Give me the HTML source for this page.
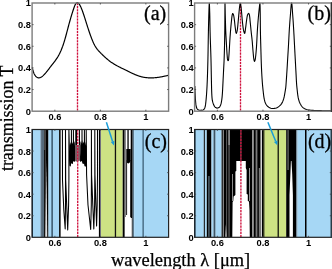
<!DOCTYPE html>
<html><head><meta charset="utf-8"><style>html,body{margin:0;padding:0;background:#fff;overflow:hidden}svg{display:block;will-change:transform}</style></head>
<body><svg xmlns="http://www.w3.org/2000/svg" width="332" height="269" viewBox="0 0 332 269">
<rect width="332" height="269" fill="#fff"/>
<rect x="32.10" y="129.50" width="8.60" height="107.80" fill="#a6d7f5"/><rect x="40.70" y="129.50" width="1.00" height="107.80" fill="#26405a"/><rect x="41.70" y="129.50" width="2.30" height="107.80" fill="#566a7a"/><rect x="44.00" y="129.50" width="1.40" height="20.50" fill="#444"/><rect x="44.00" y="150.00" width="1.40" height="87.30" fill="#111"/><rect x="45.40" y="129.50" width="3.10" height="107.80" fill="#000"/><polygon points="46.40,160.00 47.30,237.30 45.30,237.30" fill="#ddd"/><rect x="48.50" y="129.50" width="10.60" height="107.80" fill="#a6d7f5"/><rect x="51.50" y="129.50" width="1.20" height="107.80" fill="#1c3447"/><rect x="59.10" y="129.50" width="1.50" height="107.80" fill="#000"/><path d="M62.40,129.50 L62.50,180.00 L63.80,210.00 L65.20,229.00 L65.50,205.00 L65.50,129.50 L65.70,180.00 L66.90,210.00 L67.70,230.00 L68.60,205.00 L68.90,180.00 L68.90,129.50 L69.40,150.00 L70.30,166.00 L71.40,150.00 L71.40,129.50 L71.50,150.00 L72.40,163.40 L73.40,150.00 L73.40,129.50 L73.50,150.00 L74.50,161.20 L75.80,150.00 L75.80,129.50 L75.90,150.00 L76.20,161.00 L76.50,150.00 L76.50,129.50 L76.60,150.00 L78.00,160.80 L79.40,150.00 L79.40,129.50 L79.50,150.00 L80.50,161.20 L82.00,150.00 L82.00,129.50 L82.10,150.00 L83.30,163.40 L84.40,150.00 L84.40,129.50 L84.50,150.00 L85.60,166.00 L86.20,150.00 L86.20,129.50 L86.60,175.00 L88.00,205.00 L90.70,229.50 L91.30,205.00 L91.40,175.00 L91.40,129.50 L91.60,175.00 L92.80,205.00 L93.80,228.90 L94.60,205.00 L94.80,175.00 L94.80,129.50 L95.00,175.00 L95.90,205.00 L96.60,226.00 L97.20,205.00 L97.50,175.00 L97.50,129.50" stroke="#000" stroke-width="1.05" fill="none" stroke-linejoin="round"/><rect x="98.90" y="129.50" width="1.40" height="107.80" fill="#000"/><rect x="75.00" y="145.00" width="5.30" height="15.80" fill="#7a5a62"/><polygon points="69.60,146.00 70.30,142.00 71.00,145.00 71.80,141.50 72.60,144.00 73.30,140.00 74.00,143.00 74.60,141.00 75.00,146.00 75.00,160.80 74.40,161.20 72.70,161.40 72.10,163.40 71.00,163.60 70.50,165.60 69.60,165.80" fill="#000"/><polygon points="80.30,146.00 80.60,141.00 81.30,143.50 82.10,140.00 82.80,144.00 83.60,141.50 84.40,145.00 85.20,142.00 86.00,145.50 86.60,146.00 86.60,166.20 84.50,166.20 84.00,163.40 82.50,163.40 82.00,161.20 80.30,161.20" fill="#000"/><rect x="100.30" y="129.50" width="0.70" height="107.80" fill="#556"/><rect x="101.00" y="129.50" width="21.70" height="107.80" fill="#cde284"/><rect x="114.80" y="129.50" width="1.30" height="107.80" fill="#111"/><rect x="122.70" y="129.50" width="2.00" height="107.80" fill="#000"/><rect x="124.70" y="129.50" width="1.30" height="107.80" fill="#8a8a8a"/><rect x="126.00" y="129.50" width="4.70" height="107.80" fill="#fff"/><rect x="127.40" y="129.50" width="1.30" height="20.50" fill="#000"/><polygon points="126.30,149.00 130.70,149.00 130.70,160.00 129.80,162.50 128.50,163.50 127.20,163.00 126.30,161.00" fill="#000"/><rect x="126.00" y="160.00" width="1.10" height="55.00" fill="#333"/><rect x="130.00" y="160.00" width="0.70" height="57.00" fill="#000"/><rect x="130.70" y="129.50" width="2.00" height="107.80" fill="#000"/><rect x="125.00" y="217.00" width="1.00" height="20.30" fill="#fff"/><rect x="130.00" y="218.00" width="1.80" height="19.30" fill="#fff"/><rect x="132.70" y="129.50" width="1.50" height="107.80" fill="#5d7a8e"/><rect x="134.20" y="129.50" width="34.40" height="107.80" fill="#a6d7f5"/><rect x="142.60" y="129.50" width="1.00" height="107.80" fill="#1f3d52"/>
<rect x="194.60" y="129.50" width="9.20" height="107.80" fill="#a6d7f5"/><rect x="203.80" y="129.50" width="1.10" height="107.80" fill="#000"/><rect x="204.90" y="129.50" width="1.90" height="107.80" fill="#a6d7f5"/><rect x="206.80" y="129.50" width="4.70" height="107.80" fill="#000"/><rect x="208.50" y="176.00" width="0.90" height="61.30" fill="#8aa6b8"/><rect x="211.50" y="129.50" width="1.70" height="107.80" fill="#a6d7f5"/><rect x="213.20" y="129.50" width="2.60" height="107.80" fill="#6d8ea3"/><rect x="214.00" y="129.50" width="1.00" height="107.80" fill="#3c5566"/><rect x="215.80" y="129.50" width="5.80" height="107.80" fill="#a6d7f5"/><rect x="221.60" y="129.50" width="43.00" height="107.80" fill="#000"/><rect x="222.80" y="129.50" width="0.80" height="107.80" fill="#d8d8d8"/><rect x="226.20" y="129.50" width="0.90" height="107.80" fill="#6a6a6a"/><rect x="228.50" y="129.50" width="1.10" height="15.50" fill="#e0e0e0"/><rect x="228.50" y="145.00" width="1.10" height="92.30" fill="#707070"/><polygon points="225.90,224.00 226.50,237.30 225.30,237.30" fill="#e0e0e0"/><polygon points="232.30,237.30 232.60,202.00 233.30,201.00 233.60,196.50 235.40,195.00 235.40,171.50 236.30,171.00 236.30,161.00 245.80,161.00 245.80,168.00 246.60,170.00 246.60,194.00 247.80,194.50 247.80,201.00 249.00,201.50 249.50,210.00 249.80,237.30" fill="#fff"/><rect x="232.10" y="174.00" width="0.80" height="27.00" fill="#b0b0b0"/><rect x="249.20" y="168.00" width="0.80" height="33.00" fill="#bdbdbd"/><rect x="252.20" y="129.50" width="1.50" height="107.80" fill="#b8b8b8"/><rect x="255.60" y="129.50" width="1.80" height="107.80" fill="#7a7a7a"/><rect x="258.90" y="168.00" width="0.70" height="69.30" fill="#c8c8c8"/><rect x="260.50" y="129.50" width="1.40" height="107.80" fill="#ececec"/><rect x="264.60" y="129.50" width="21.60" height="107.80" fill="#cde284"/><rect x="263.60" y="129.50" width="1.00" height="107.80" fill="#8a9650"/><rect x="277.60" y="129.50" width="1.20" height="107.80" fill="#000"/><rect x="286.20" y="129.50" width="10.10" height="107.80" fill="#000"/><rect x="287.60" y="129.50" width="0.90" height="40.50" fill="#9a9a9a"/><polygon points="290.90,161.00 291.50,161.00 292.20,174.00 292.90,195.00 292.90,237.30 289.50,237.30 289.50,195.00 290.40,174.00" fill="#fff"/><rect x="296.30" y="129.50" width="1.20" height="107.80" fill="#5d7a8e"/><rect x="297.50" y="129.50" width="33.80" height="107.80" fill="#a6d7f5"/><rect x="305.00" y="129.50" width="1.50" height="107.80" fill="#000"/>
<line x1="77.50" y1="3.0" x2="77.50" y2="111.2" stroke="#e8a0b4" stroke-width="1.2" stroke-opacity="0.4"/>
<line x1="77.50" y1="3.0" x2="77.50" y2="111.2" stroke="#d0103c" stroke-width="1.3" stroke-dasharray="2.1,1.0"/>
<line x1="240.50" y1="3.0" x2="240.50" y2="111.2" stroke="#e8a0b4" stroke-width="1.2" stroke-opacity="0.4"/>
<line x1="240.50" y1="3.0" x2="240.50" y2="111.2" stroke="#d0103c" stroke-width="1.3" stroke-dasharray="2.1,1.0"/>
<line x1="77.70" y1="129.5" x2="77.70" y2="237.3" stroke="#e8a0b4" stroke-width="1.2" stroke-opacity="0.4"/>
<line x1="77.70" y1="129.5" x2="77.70" y2="237.3" stroke="#d0103c" stroke-width="1.3" stroke-dasharray="2.1,1.0"/>
<line x1="240.90" y1="129.5" x2="240.90" y2="237.3" stroke="#e8a0b4" stroke-width="1.2" stroke-opacity="0.4"/>
<line x1="240.90" y1="129.5" x2="240.90" y2="237.3" stroke="#d0103c" stroke-width="1.3" stroke-dasharray="2.1,1.0"/>
<path d="M32.20,67.39 L32.54,68.82 L32.88,70.11 L33.23,71.25 L33.57,72.26 L33.91,73.15 L34.25,73.92 L34.59,74.60 L34.93,75.18 L35.28,75.68 L35.62,76.11 L35.96,76.48 L36.30,76.80 L36.64,77.08 L36.99,77.31 L37.33,77.49 L37.67,77.64 L38.01,77.74 L38.35,77.80 L38.70,77.83 L39.04,77.82 L39.38,77.78 L39.72,77.71 L40.06,77.61 L40.40,77.47 L40.75,77.31 L41.09,77.13 L41.43,76.92 L41.77,76.69 L42.11,76.44 L42.46,76.17 L42.80,75.89 L43.14,75.59 L43.48,75.27 L43.82,74.94 L44.16,74.59 L44.51,74.24 L44.85,73.87 L45.19,73.49 L45.53,73.10 L45.87,72.70 L46.22,72.29 L46.56,71.87 L46.90,71.45 L47.24,71.02 L47.58,70.59 L47.93,70.15 L48.27,69.70 L48.61,69.26 L48.95,68.81 L49.29,68.36 L49.63,67.91 L49.98,67.46 L50.32,67.01 L50.66,66.56 L51.00,66.12 L51.34,65.68 L51.69,65.24 L52.03,64.81 L52.37,64.38 L52.71,63.95 L53.05,63.52 L53.39,63.09 L53.74,62.66 L54.08,62.23 L54.42,61.79 L54.76,61.34 L55.10,60.88 L55.45,60.42 L55.79,59.94 L56.13,59.45 L56.47,58.95 L56.81,58.43 L57.16,57.90 L57.50,57.35 L57.84,56.79 L58.18,56.20 L58.52,55.60 L58.86,54.97 L59.21,54.32 L59.55,53.65 L59.89,52.96 L60.23,52.24 L60.57,51.49 L60.92,50.72 L61.26,49.92 L61.60,49.09 L61.94,48.23 L62.28,47.33 L62.63,46.41 L62.97,45.45 L63.31,44.45 L63.65,43.42 L63.99,42.35 L64.33,41.25 L64.68,40.10 L65.02,38.93 L65.36,37.72 L65.70,36.49 L66.04,35.24 L66.39,33.97 L66.73,32.69 L67.07,31.40 L67.41,30.11 L67.75,28.81 L68.09,27.52 L68.44,26.24 L68.78,24.96 L69.12,23.71 L69.46,22.47 L69.80,21.25 L70.15,20.04 L70.49,18.86 L70.83,17.69 L71.17,16.54 L71.51,15.40 L71.86,14.28 L72.20,13.18 L72.54,12.10 L72.88,11.04 L73.22,9.99 L73.56,8.97 L73.91,7.97 L74.25,7.03 L74.59,6.14 L74.93,5.34 L75.27,4.62 L75.62,4.01 L75.96,3.52 L76.30,3.13 L76.64,2.86 L76.98,2.71 L77.32,2.66 L77.67,2.71 L78.01,2.87 L78.35,3.11 L78.69,3.44 L79.03,3.85 L79.38,4.33 L79.72,4.88 L80.06,5.48 L80.40,6.14 L80.74,6.85 L81.09,7.61 L81.43,8.41 L81.77,9.25 L82.11,10.13 L82.45,11.05 L82.79,12.00 L83.14,12.98 L83.48,13.98 L83.82,15.00 L84.16,16.04 L84.50,17.10 L84.85,18.17 L85.19,19.25 L85.53,20.34 L85.87,21.43 L86.21,22.52 L86.55,23.60 L86.90,24.68 L87.24,25.75 L87.58,26.82 L87.92,27.87 L88.26,28.92 L88.61,29.95 L88.95,30.97 L89.29,31.98 L89.63,32.98 L89.97,33.96 L90.32,34.92 L90.66,35.86 L91.00,36.79 L91.34,37.70 L91.68,38.59 L92.02,39.45 L92.37,40.30 L92.71,41.12 L93.05,41.91 L93.39,42.68 L93.73,43.41 L94.08,44.12 L94.42,44.80 L94.76,45.45 L95.10,46.07 L95.44,46.65 L95.78,47.20 L96.13,47.72 L96.47,48.22 L96.81,48.69 L97.15,49.14 L97.49,49.56 L97.84,49.97 L98.18,50.37 L98.52,50.75 L98.86,51.12 L99.20,51.48 L99.55,51.84 L99.89,52.20 L100.23,52.55 L100.57,52.90 L100.91,53.25 L101.25,53.60 L101.60,53.94 L101.94,54.28 L102.28,54.62 L102.62,54.95 L102.96,55.28 L103.31,55.61 L103.65,55.94 L103.99,56.26 L104.33,56.58 L104.67,56.89 L105.02,57.20 L105.36,57.51 L105.70,57.82 L106.04,58.12 L106.38,58.42 L106.72,58.71 L107.07,59.00 L107.41,59.29 L107.75,59.57 L108.09,59.85 L108.43,60.12 L108.78,60.39 L109.12,60.66 L109.46,60.92 L109.80,61.18 L110.14,61.43 L110.48,61.68 L110.83,61.92 L111.17,62.17 L111.51,62.40 L111.85,62.63 L112.19,62.86 L112.54,63.09 L112.88,63.31 L113.22,63.53 L113.56,63.74 L113.90,63.95 L114.25,64.16 L114.59,64.37 L114.93,64.57 L115.27,64.77 L115.61,64.97 L115.95,65.16 L116.30,65.35 L116.64,65.54 L116.98,65.73 L117.32,65.91 L117.66,66.09 L118.01,66.28 L118.35,66.45 L118.69,66.63 L119.03,66.81 L119.37,66.98 L119.71,67.16 L120.06,67.33 L120.40,67.50 L120.74,67.67 L121.08,67.84 L121.42,68.00 L121.77,68.17 L122.11,68.34 L122.45,68.50 L122.79,68.67 L123.13,68.83 L123.48,69.00 L123.82,69.16 L124.16,69.33 L124.50,69.49 L124.84,69.66 L125.18,69.82 L125.53,69.99 L125.87,70.16 L126.21,70.32 L126.55,70.49 L126.89,70.66 L127.24,70.83 L127.58,71.00 L127.92,71.17 L128.26,71.34 L128.60,71.51 L128.94,71.68 L129.29,71.85 L129.63,72.02 L129.97,72.19 L130.31,72.36 L130.65,72.52 L131.00,72.69 L131.34,72.86 L131.68,73.02 L132.02,73.19 L132.36,73.35 L132.71,73.51 L133.05,73.67 L133.39,73.82 L133.73,73.98 L134.07,74.13 L134.41,74.29 L134.76,74.43 L135.10,74.58 L135.44,74.73 L135.78,74.87 L136.12,75.01 L136.47,75.15 L136.81,75.28 L137.15,75.41 L137.49,75.54 L137.83,75.67 L138.17,75.79 L138.52,75.91 L138.86,76.02 L139.20,76.13 L139.54,76.24 L139.88,76.34 L140.23,76.44 L140.57,76.54 L140.91,76.63 L141.25,76.72 L141.59,76.80 L141.94,76.89 L142.28,76.96 L142.62,77.04 L142.96,77.11 L143.30,77.18 L143.64,77.24 L143.99,77.30 L144.33,77.36 L144.67,77.42 L145.01,77.47 L145.35,77.51 L145.70,77.56 L146.04,77.60 L146.38,77.64 L146.72,77.68 L147.06,77.71 L147.41,77.74 L147.75,77.76 L148.09,77.79 L148.43,77.81 L148.77,77.83 L149.11,77.84 L149.46,77.86 L149.80,77.87 L150.14,77.87 L150.48,77.88 L150.82,77.88 L151.17,77.88 L151.51,77.87 L151.85,77.87 L152.19,77.86 L152.53,77.85 L152.87,77.84 L153.22,77.82 L153.56,77.80 L153.90,77.78 L154.24,77.76 L154.58,77.73 L154.93,77.71 L155.27,77.68 L155.61,77.65 L155.95,77.61 L156.29,77.58 L156.64,77.54 L156.98,77.50 L157.32,77.46 L157.66,77.41 L158.00,77.37 L158.34,77.32 L158.69,77.27 L159.03,77.22 L159.37,77.17 L159.71,77.11 L160.05,77.06 L160.40,77.00 L160.74,76.94 L161.08,76.88 L161.42,76.82 L161.76,76.75 L162.10,76.69 L162.45,76.62 L162.79,76.55 L163.13,76.48 L163.47,76.41 L163.81,76.34 L164.16,76.27 L164.50,76.19 L164.84,76.11 L165.18,76.04 L165.52,75.96 L165.87,75.88 L166.21,75.80 L166.55,75.72 L166.89,75.64 L167.23,75.55 L167.57,75.47 L167.92,75.38 L168.26,75.30 L168.60,75.21" fill="none" stroke="#000" stroke-width="1.2" stroke-linejoin="round"/>
<path d="M194.90,86.00 L194.92,87.14 L194.94,88.28 L194.97,89.41 L195.01,90.55 L195.05,91.69 L195.10,92.83 L195.15,93.96 L195.20,95.10 L195.26,96.23 L195.32,97.37 L195.38,98.51 L195.45,99.65 L195.53,100.79 L195.63,101.92 L195.73,103.05 L195.86,104.18 L196.02,105.32 L196.23,106.48 L196.53,107.58 L196.94,108.57 L197.72,109.50 L198.67,109.97 L199.82,110.25 L200.97,110.29 L202.14,110.17 L203.19,109.93 L204.13,109.18 L204.67,108.26 L205.03,107.17 L205.30,106.01 L205.50,104.89 L205.66,103.77 L205.79,102.64 L205.91,101.50 L206.02,100.37 L206.13,99.23 L206.23,98.10 L206.33,96.97 L206.42,95.83 L206.51,94.70 L206.60,93.56 L206.67,92.43 L206.74,91.29 L206.81,90.16 L206.88,89.02 L206.94,87.88 L207.00,86.75 L207.06,85.61 L207.11,84.48 L207.16,83.34 L207.21,82.20 L207.26,81.06 L207.30,79.93 L207.35,78.79 L207.39,77.65 L207.43,76.52 L207.47,75.38 L207.51,74.24 L207.54,73.11 L207.58,71.97 L207.61,70.83 L207.65,69.69 L207.68,68.56 L207.71,67.42 L207.74,66.28 L207.77,65.14 L207.80,64.01 L207.83,62.87 L207.86,61.73 L207.89,60.59 L207.91,59.46 L207.94,58.32 L207.96,57.18 L207.98,56.04 L208.01,54.91 L208.03,53.77 L208.05,52.63 L208.07,51.49 L208.09,50.36 L208.10,49.22 L208.12,48.08 L208.14,46.94 L208.16,45.81 L208.18,44.67 L208.20,43.53 L208.21,42.39 L208.23,41.25 L208.25,40.12 L208.27,38.98 L208.29,37.84 L208.31,36.70 L208.33,35.57 L208.35,34.43 L208.37,33.29 L208.40,32.15 L208.42,31.02 L208.44,29.88 L208.47,28.74 L208.49,27.60 L208.52,26.47 L208.54,25.33 L208.57,24.19 L208.59,23.05 L208.62,21.92 L208.65,20.78 L208.68,19.64 L208.71,18.50 L208.74,17.37 L208.77,16.23 L208.80,15.09 L208.84,13.95 L208.87,12.82 L208.91,11.67 L208.95,10.34 L209.00,8.87 L209.05,7.36 L209.11,5.93 L209.17,4.69 L209.22,3.77 L209.28,3.26 L209.33,3.28 L209.38,3.83 L209.44,4.78 L209.50,6.04 L209.55,7.48 L209.61,8.99 L209.65,10.45 L209.69,11.76 L209.73,12.91 L209.76,14.04 L209.78,15.18 L209.81,16.32 L209.83,17.46 L209.85,18.59 L209.87,19.73 L209.89,20.87 L209.91,22.01 L209.93,23.15 L209.95,24.28 L209.97,25.42 L209.99,26.56 L210.01,27.70 L210.03,28.83 L210.05,29.97 L210.08,31.11 L210.11,32.25 L210.14,33.38 L210.17,34.52 L210.20,35.66 L210.23,36.80 L210.27,37.93 L210.31,39.07 L210.35,40.21 L210.38,41.34 L210.42,42.48 L210.46,43.62 L210.51,44.76 L210.55,45.89 L210.59,47.03 L210.63,48.17 L210.67,49.30 L210.71,50.44 L210.75,51.58 L210.79,52.72 L210.82,53.85 L210.86,54.99 L210.89,56.13 L210.93,57.26 L210.96,58.40 L210.99,59.54 L211.02,60.68 L211.04,61.81 L211.07,62.95 L211.09,64.09 L211.11,65.23 L211.14,66.36 L211.16,67.50 L211.18,68.64 L211.20,69.78 L211.22,70.92 L211.24,72.05 L211.26,73.19 L211.28,74.33 L211.31,75.47 L211.33,76.60 L211.35,77.74 L211.38,78.88 L211.40,80.02 L211.43,81.15 L211.45,82.29 L211.47,83.43 L211.50,84.57 L211.52,85.70 L211.55,86.84 L211.57,87.98 L211.61,89.12 L211.64,90.25 L211.68,91.39 L211.72,92.53 L211.77,93.67 L211.83,94.81 L211.89,95.95 L211.97,97.09 L212.07,98.22 L212.18,99.34 L212.35,100.46 L212.60,101.58 L212.93,102.68 L213.28,103.75 L213.69,104.85 L214.19,105.92 L214.81,106.81 L215.68,107.60 L216.73,108.09 L217.86,107.97 L218.92,107.59 L219.73,106.80 L220.30,105.79 L220.71,104.74 L221.04,103.63 L221.30,102.51 L221.51,101.40 L221.70,100.28 L221.86,99.15 L221.99,98.01 L222.11,96.88 L222.21,95.75 L222.30,94.62 L222.39,93.48 L222.46,92.34 L222.53,91.21 L222.60,90.07 L222.66,88.93 L222.72,87.80 L222.77,86.66 L222.83,85.53 L222.88,84.39 L222.94,83.25 L222.99,82.12 L223.05,80.98 L223.11,79.84 L223.16,78.71 L223.22,77.57 L223.28,76.43 L223.34,75.30 L223.39,74.16 L223.45,73.03 L223.51,71.89 L223.56,70.75 L223.62,69.62 L223.68,68.48 L223.74,67.34 L223.80,66.21 L223.86,65.07 L223.92,63.93 L223.98,62.80 L224.03,61.66 L224.08,60.53 L224.12,59.39 L224.16,58.25 L224.20,57.11 L224.24,55.98 L224.27,54.84 L224.31,53.70 L224.34,52.57 L224.37,51.43 L224.41,50.29 L224.44,49.15 L224.46,48.02 L224.49,46.88 L224.52,45.74 L224.54,44.60 L224.57,43.46 L224.59,42.33 L224.62,41.19 L224.64,40.05 L224.66,38.91 L224.68,37.78 L224.70,36.64 L224.72,35.50 L224.74,34.36 L224.76,33.23 L224.77,32.09 L224.79,30.95 L224.80,29.81 L224.81,28.61 L224.82,27.33 L224.83,25.98 L224.84,24.57 L224.85,23.12 L224.86,21.63 L224.87,20.12 L224.87,18.61 L224.88,17.10 L224.89,15.60 L224.89,14.13 L224.90,12.70 L224.90,11.33 L224.91,10.02 L224.92,8.79 L224.93,7.65 L224.93,6.61 L224.94,5.69 L224.95,4.89 L224.96,4.23 L224.97,3.72 L224.98,3.38 L224.99,3.21 L225.01,3.27 L225.03,3.69 L225.05,4.42 L225.07,5.41 L225.10,6.62 L225.13,7.98 L225.16,9.44 L225.19,10.95 L225.22,12.45 L225.25,13.90 L225.28,15.23 L225.31,16.41 L225.34,17.54 L225.37,18.68 L225.40,19.82 L225.43,20.96 L225.46,22.09 L225.49,23.23 L225.52,24.37 L225.55,25.51 L225.59,26.64 L225.62,27.78 L225.66,28.92 L225.70,30.05 L225.75,31.19 L225.80,32.33 L225.85,33.46 L225.90,34.60 L225.96,35.74 L226.03,36.87 L226.09,38.01 L226.15,39.14 L226.22,40.28 L226.29,41.42 L226.36,42.55 L226.42,43.69 L226.49,44.82 L226.55,45.96 L226.62,47.10 L226.68,48.23 L226.74,49.37 L226.81,50.51 L226.87,51.64 L226.95,52.78 L227.03,53.91 L227.12,55.05 L227.22,56.18 L227.31,57.41 L227.41,58.66 L227.58,59.78 L227.94,60.63 L228.47,60.54 L228.63,59.42 L228.73,57.94 L228.83,56.68 L228.92,55.54 L229.01,54.41 L229.08,53.27 L229.15,52.14 L229.22,51.00 L229.29,49.86 L229.36,48.73 L229.43,47.59 L229.49,46.46 L229.56,45.32 L229.63,44.18 L229.69,43.05 L229.76,41.91 L229.82,40.78 L229.89,39.64 L229.97,38.51 L230.04,37.37 L230.12,36.24 L230.21,35.10 L230.29,33.97 L230.38,32.83 L230.47,31.70 L230.57,30.56 L230.66,29.43 L230.76,28.30 L230.86,27.16 L230.96,26.03 L231.06,24.90 L231.17,23.76 L231.28,22.63 L231.40,21.50 L231.51,20.37 L231.63,19.23 L231.74,18.10 L231.88,16.96 L232.04,15.84 L232.27,14.56 L232.61,13.46 L233.20,14.05 L233.59,15.15 L233.83,16.25 L234.01,17.39 L234.17,18.54 L234.33,19.68 L234.47,20.81 L234.61,21.94 L234.73,23.07 L234.85,24.20 L234.97,25.34 L235.10,26.47 L235.24,27.59 L235.41,28.80 L235.59,30.25 L235.79,31.69 L236.01,32.83 L236.25,33.38 L236.57,32.95 L236.95,31.64 L237.23,30.34 L237.40,29.23 L237.55,28.10 L237.68,26.97 L237.79,25.83 L237.90,24.70 L238.00,23.56 L238.11,22.42 L238.22,21.29 L238.32,20.16 L238.42,19.02 L238.52,17.89 L238.62,16.76 L238.71,15.62 L238.81,14.49 L238.92,13.36 L239.03,12.22 L239.13,11.09 L239.24,9.96 L239.35,8.82 L239.48,7.69 L239.62,6.56 L239.80,5.36 L240.04,3.93 L240.30,3.20 L240.55,3.88 L240.80,5.30 L240.98,6.52 L241.12,7.65 L241.24,8.78 L241.36,9.91 L241.46,11.05 L241.57,12.18 L241.68,13.31 L241.78,14.45 L241.88,15.58 L241.97,16.72 L242.07,17.85 L242.16,18.98 L242.26,20.12 L242.37,21.25 L242.49,22.38 L242.61,23.51 L242.73,24.65 L242.86,25.79 L243.00,26.92 L243.16,28.05 L243.34,29.17 L243.55,30.28 L243.86,31.54 L244.28,32.87 L244.63,33.40 L244.88,32.90 L245.10,31.80 L245.29,30.38 L245.47,28.92 L245.65,27.69 L245.80,26.57 L245.95,25.44 L246.08,24.30 L246.21,23.17 L246.35,22.04 L246.49,20.91 L246.65,19.79 L246.83,18.65 L246.99,17.48 L247.19,16.32 L247.45,15.23 L247.84,14.23 L248.67,13.40 L249.20,14.24 L249.49,15.45 L249.67,16.56 L249.80,17.68 L249.92,18.83 L250.01,19.97 L250.11,21.12 L250.23,22.26 L250.35,23.39 L250.46,24.52 L250.57,25.65 L250.68,26.78 L250.79,27.92 L250.90,29.05 L251.01,30.18 L251.13,31.31 L251.25,32.45 L251.37,33.58 L251.51,34.71 L251.64,35.84 L251.77,36.97 L251.90,38.10 L252.02,39.23 L252.13,40.36 L252.24,41.49 L252.34,42.63 L252.43,43.76 L252.52,44.90 L252.61,46.03 L252.69,47.16 L252.78,48.30 L252.87,49.43 L252.97,50.57 L253.07,51.70 L253.18,52.83 L253.27,53.97 L253.37,55.11 L253.47,56.25 L253.60,57.38 L253.74,58.51 L253.92,59.62 L254.23,61.00 L254.60,61.42 L255.02,60.28 L255.29,59.05 L255.47,57.93 L255.61,56.80 L255.74,55.66 L255.85,54.53 L255.96,53.39 L256.06,52.26 L256.16,51.13 L256.25,49.99 L256.34,48.86 L256.42,47.72 L256.50,46.59 L256.57,45.45 L256.64,44.32 L256.71,43.18 L256.77,42.04 L256.83,40.91 L256.89,39.77 L256.95,38.64 L257.00,37.50 L257.06,36.36 L257.11,35.23 L257.17,34.09 L257.23,32.95 L257.29,31.82 L257.36,30.68 L257.43,29.55 L257.50,28.41 L257.58,27.28 L257.66,26.14 L257.75,25.01 L257.83,23.87 L257.92,22.74 L258.01,21.60 L258.10,20.47 L258.20,19.33 L258.30,18.20 L258.39,17.07 L258.50,15.93 L258.60,14.80 L258.71,13.67 L258.82,12.54 L258.93,11.40 L259.05,10.27 L259.17,9.14 L259.30,8.01 L259.45,6.68 L259.61,5.19 L259.77,3.92 L259.88,3.23 L259.95,3.35 L260.00,3.99 L260.05,5.02 L260.09,6.32 L260.12,7.78 L260.15,9.29 L260.18,10.74 L260.20,12.00 L260.22,13.14 L260.24,14.28 L260.25,15.41 L260.26,16.55 L260.28,17.69 L260.29,18.83 L260.30,19.97 L260.31,21.10 L260.32,22.24 L260.33,23.38 L260.34,24.52 L260.35,25.65 L260.36,26.79 L260.37,27.93 L260.39,29.07 L260.40,30.21 L260.42,31.34 L260.44,32.48 L260.47,33.62 L260.49,34.76 L260.52,35.89 L260.54,37.03 L260.57,38.17 L260.60,39.31 L260.63,40.44 L260.66,41.58 L260.69,42.72 L260.73,43.86 L260.76,44.99 L260.79,46.13 L260.82,47.27 L260.86,48.40 L260.89,49.54 L260.92,50.68 L260.95,51.82 L260.98,52.95 L261.01,54.09 L261.05,55.23 L261.08,56.37 L261.11,57.50 L261.14,58.64 L261.18,59.78 L261.22,60.92 L261.25,62.05 L261.29,63.19 L261.34,64.33 L261.38,65.46 L261.42,66.60 L261.47,67.74 L261.52,68.87 L261.58,70.01 L261.63,71.15 L261.69,72.28 L261.75,73.42 L261.82,74.56 L261.88,75.69 L261.95,76.83 L262.02,77.96 L262.10,79.10 L262.18,80.23 L262.25,81.37 L262.34,82.50 L262.43,83.64 L262.52,84.77 L262.62,85.91 L262.73,87.04 L262.84,88.17 L262.96,89.30 L263.08,90.43 L263.21,91.56 L263.34,92.70 L263.47,93.83 L263.61,94.97 L263.76,96.10 L263.92,97.23 L264.11,98.34 L264.33,99.45 L264.60,100.57 L264.92,101.69 L265.31,102.78 L265.75,103.81 L266.28,104.76 L266.99,105.69 L267.83,106.53 L268.72,107.17 L269.71,107.74 L270.80,108.23 L271.91,108.49 L273.03,108.48 L274.19,108.40 L275.33,108.28 L276.40,108.07 L277.42,107.56 L278.38,106.87 L279.29,106.17 L280.14,105.40 L280.88,104.55 L281.57,103.62 L282.17,102.65 L282.65,101.64 L283.07,100.59 L283.44,99.50 L283.77,98.40 L284.05,97.30 L284.30,96.19 L284.52,95.07 L284.72,93.95 L284.91,92.83 L285.10,91.70 L285.30,90.58 L285.48,89.46 L285.65,88.33 L285.79,87.20 L285.90,86.07 L285.99,84.94 L286.07,83.80 L286.15,82.67 L286.23,81.53 L286.31,80.40 L286.39,79.26 L286.47,78.13 L286.55,76.99 L286.62,75.86 L286.70,74.72 L286.77,73.59 L286.84,72.45 L286.92,71.32 L286.99,70.18 L287.06,69.04 L287.13,67.91 L287.20,66.77 L287.27,65.64 L287.33,64.50 L287.40,63.37 L287.47,62.23 L287.53,61.09 L287.60,59.96 L287.67,58.82 L287.74,57.69 L287.81,56.55 L287.88,55.41 L287.95,54.28 L288.02,53.14 L288.09,52.01 L288.16,50.87 L288.22,49.74 L288.29,48.60 L288.36,47.46 L288.42,46.33 L288.49,45.19 L288.55,44.06 L288.61,42.92 L288.67,41.78 L288.73,40.65 L288.79,39.51 L288.85,38.38 L288.90,37.24 L288.96,36.10 L289.02,34.97 L289.08,33.83 L289.14,32.69 L289.21,31.56 L289.27,30.42 L289.34,29.29 L289.42,28.15 L289.49,27.02 L289.57,25.88 L289.65,24.75 L289.73,23.61 L289.81,22.48 L289.89,21.34 L289.98,20.21 L290.07,19.07 L290.16,17.94 L290.25,16.80 L290.34,15.67 L290.44,14.52 L290.54,13.22 L290.65,11.79 L290.76,10.30 L290.88,8.80 L290.99,7.34 L291.11,6.00 L291.23,4.83 L291.34,3.88 L291.46,3.22 L291.57,2.92 L291.68,3.01 L291.79,3.48 L291.90,4.27 L292.00,5.33 L292.11,6.59 L292.22,7.99 L292.32,9.47 L292.42,10.98 L292.52,12.45 L292.61,13.83 L292.70,15.05 L292.79,16.18 L292.87,17.32 L292.96,18.45 L293.04,19.59 L293.12,20.72 L293.19,21.86 L293.27,23.00 L293.34,24.13 L293.41,25.27 L293.48,26.40 L293.55,27.54 L293.62,28.67 L293.69,29.81 L293.76,30.95 L293.82,32.08 L293.88,33.22 L293.95,34.35 L294.01,35.49 L294.07,36.63 L294.12,37.76 L294.18,38.90 L294.24,40.03 L294.30,41.17 L294.36,42.31 L294.42,43.44 L294.48,44.58 L294.54,45.72 L294.60,46.85 L294.66,47.99 L294.72,49.12 L294.78,50.26 L294.84,51.40 L294.90,52.53 L294.96,53.67 L295.02,54.81 L295.08,55.94 L295.14,57.08 L295.20,58.21 L295.27,59.35 L295.33,60.49 L295.39,61.62 L295.45,62.76 L295.51,63.89 L295.57,65.03 L295.63,66.17 L295.69,67.30 L295.75,68.44 L295.81,69.58 L295.88,70.71 L295.94,71.85 L296.00,72.98 L296.06,74.12 L296.12,75.26 L296.17,76.39 L296.23,77.53 L296.28,78.67 L296.34,79.80 L296.41,80.94 L296.47,82.08 L296.55,83.21 L296.63,84.34 L296.72,85.48 L296.83,86.61 L296.94,87.74 L297.07,88.88 L297.19,90.01 L297.31,91.14 L297.43,92.27 L297.56,93.41 L297.70,94.54 L297.87,95.66 L298.05,96.78 L298.26,97.90 L298.52,99.02 L298.81,100.12 L299.14,101.21 L299.51,102.27 L299.97,103.32 L300.50,104.34 L301.08,105.32 L301.73,106.25 L302.48,107.13 L303.32,107.85 L304.28,108.48 L305.31,109.02 L306.36,109.43 L307.45,109.78 L308.57,110.04 L309.69,110.17 L310.82,110.28 L311.95,110.36 L313.09,110.42 L314.24,110.47 L315.37,110.51 L316.51,110.55 L317.65,110.58 L318.78,110.61 L319.92,110.64 L321.06,110.67 L322.19,110.69 L323.33,110.72 L324.47,110.74 L325.61,110.76 L326.74,110.77 L327.88,110.78 L329.02,110.79 L330.16,110.80 L331.30,110.80" fill="none" stroke="#000" stroke-width="1.1" stroke-linejoin="round"/>
<rect x="32.1" y="3.0" width="136.50" height="108.20" fill="none" stroke="#7c7c7c" stroke-width="1.4"/>
<g stroke="#444" stroke-width="0.8"><line x1="54.85" y1="111.2" x2="54.85" y2="109.7" /><line x1="54.85" y1="3.0" x2="54.85" y2="4.5" /><line x1="100.35" y1="111.2" x2="100.35" y2="109.7" /><line x1="100.35" y1="3.0" x2="100.35" y2="4.5" /><line x1="145.85" y1="111.2" x2="145.85" y2="109.7" /><line x1="145.85" y1="3.0" x2="145.85" y2="4.5" /><line x1="32.1" y1="89.56" x2="33.6" y2="89.56" /><line x1="168.6" y1="89.56" x2="167.1" y2="89.56" /><line x1="32.1" y1="67.92" x2="33.6" y2="67.92" /><line x1="168.6" y1="67.92" x2="167.1" y2="67.92" /><line x1="32.1" y1="46.28" x2="33.6" y2="46.28" /><line x1="168.6" y1="46.28" x2="167.1" y2="46.28" /><line x1="32.1" y1="24.64" x2="33.6" y2="24.64" /><line x1="168.6" y1="24.64" x2="167.1" y2="24.64" /></g>
<rect x="194.6" y="3.0" width="136.70" height="108.20" fill="none" stroke="#7c7c7c" stroke-width="1.4"/>
<g stroke="#444" stroke-width="0.8"><line x1="217.38" y1="111.2" x2="217.38" y2="109.7" /><line x1="217.38" y1="3.0" x2="217.38" y2="4.5" /><line x1="262.95" y1="111.2" x2="262.95" y2="109.7" /><line x1="262.95" y1="3.0" x2="262.95" y2="4.5" /><line x1="308.52" y1="111.2" x2="308.52" y2="109.7" /><line x1="308.52" y1="3.0" x2="308.52" y2="4.5" /><line x1="194.6" y1="89.56" x2="196.1" y2="89.56" /><line x1="331.3" y1="89.56" x2="329.8" y2="89.56" /><line x1="194.6" y1="67.92" x2="196.1" y2="67.92" /><line x1="331.3" y1="67.92" x2="329.8" y2="67.92" /><line x1="194.6" y1="46.28" x2="196.1" y2="46.28" /><line x1="331.3" y1="46.28" x2="329.8" y2="46.28" /><line x1="194.6" y1="24.64" x2="196.1" y2="24.64" /><line x1="331.3" y1="24.64" x2="329.8" y2="24.64" /></g>
<rect x="32.1" y="129.5" width="136.50" height="107.80" fill="none" stroke="#222" stroke-width="1.2"/>
<line x1="32.40" y1="129.5" x2="32.40" y2="237.3" stroke="#1a2a36" stroke-width="1.2"/>
<g stroke="#444" stroke-width="0.8"><line x1="54.85" y1="237.3" x2="54.85" y2="235.8" /><line x1="54.85" y1="129.5" x2="54.85" y2="131.0" /><line x1="100.35" y1="237.3" x2="100.35" y2="235.8" /><line x1="100.35" y1="129.5" x2="100.35" y2="131.0" /><line x1="145.85" y1="237.3" x2="145.85" y2="235.8" /><line x1="145.85" y1="129.5" x2="145.85" y2="131.0" /><line x1="32.1" y1="215.74" x2="33.6" y2="215.74" /><line x1="168.6" y1="215.74" x2="167.1" y2="215.74" /><line x1="32.1" y1="194.18" x2="33.6" y2="194.18" /><line x1="168.6" y1="194.18" x2="167.1" y2="194.18" /><line x1="32.1" y1="172.62" x2="33.6" y2="172.62" /><line x1="168.6" y1="172.62" x2="167.1" y2="172.62" /><line x1="32.1" y1="151.06" x2="33.6" y2="151.06" /><line x1="168.6" y1="151.06" x2="167.1" y2="151.06" /></g>
<rect x="194.6" y="129.5" width="136.70" height="107.80" fill="none" stroke="#222" stroke-width="1.2"/>
<line x1="194.90" y1="129.5" x2="194.90" y2="237.3" stroke="#1a2a36" stroke-width="1.2"/>
<g stroke="#444" stroke-width="0.8"><line x1="217.38" y1="237.3" x2="217.38" y2="235.8" /><line x1="217.38" y1="129.5" x2="217.38" y2="131.0" /><line x1="262.95" y1="237.3" x2="262.95" y2="235.8" /><line x1="262.95" y1="129.5" x2="262.95" y2="131.0" /><line x1="308.52" y1="237.3" x2="308.52" y2="235.8" /><line x1="308.52" y1="129.5" x2="308.52" y2="131.0" /><line x1="194.6" y1="215.74" x2="196.1" y2="215.74" /><line x1="331.3" y1="215.74" x2="329.8" y2="215.74" /><line x1="194.6" y1="194.18" x2="196.1" y2="194.18" /><line x1="331.3" y1="194.18" x2="329.8" y2="194.18" /><line x1="194.6" y1="172.62" x2="196.1" y2="172.62" /><line x1="331.3" y1="172.62" x2="329.8" y2="172.62" /><line x1="194.6" y1="151.06" x2="196.1" y2="151.06" /><line x1="331.3" y1="151.06" x2="329.8" y2="151.06" /></g>
<line x1="331.4" y1="2.3" x2="331.4" y2="111.9" stroke="#333" stroke-width="1.2"/>
<line x1="331.4" y1="128.9" x2="331.4" y2="237.9" stroke="#2a3a44" stroke-width="1.2"/>
<line x1="106.4" y1="122.3" x2="112.60" y2="141.41" stroke="#1b9dd8" stroke-width="1.5"/><polygon points="113.90,145.40 110.80,141.99 114.41,140.82" fill="#1b9dd8"/>
<line x1="267.9" y1="122.2" x2="275.71" y2="141.31" stroke="#1b9dd8" stroke-width="1.5"/><polygon points="277.30,145.20 273.95,142.03 277.47,140.59" fill="#1b9dd8"/>
<g font-family="Liberation Sans" font-weight="bold" font-size="9.3" fill="#000">
<text x="31.0" y="114.65" text-anchor="end">0</text><text x="31.0" y="93.01" text-anchor="end">0.2</text><text x="31.0" y="71.37" text-anchor="end">0.4</text><text x="31.0" y="49.73" text-anchor="end">0.6</text><text x="31.0" y="28.09" text-anchor="end">0.8</text><text x="31.0" y="6.45" text-anchor="end">1</text>
<text x="193.6" y="114.65" text-anchor="end">0</text><text x="193.6" y="93.01" text-anchor="end">0.2</text><text x="193.6" y="71.37" text-anchor="end">0.4</text><text x="193.6" y="49.73" text-anchor="end">0.6</text><text x="193.6" y="28.09" text-anchor="end">0.8</text><text x="193.6" y="6.45" text-anchor="end">1</text>
<text x="31.0" y="240.75" text-anchor="end">0</text><text x="31.0" y="219.19" text-anchor="end">0.2</text><text x="31.0" y="197.63" text-anchor="end">0.4</text><text x="31.0" y="176.07" text-anchor="end">0.6</text><text x="31.0" y="154.51" text-anchor="end">0.8</text><text x="31.0" y="132.95" text-anchor="end">1</text>
<text x="193.6" y="240.75" text-anchor="end">0</text><text x="193.6" y="219.19" text-anchor="end">0.2</text><text x="193.6" y="197.63" text-anchor="end">0.4</text><text x="193.6" y="176.07" text-anchor="end">0.6</text><text x="193.6" y="154.51" text-anchor="end">0.8</text><text x="193.6" y="132.95" text-anchor="end">1</text>
<text x="54.85" y="120.3" text-anchor="middle">0.6</text><text x="100.35" y="120.3" text-anchor="middle">0.8</text><text x="145.85" y="120.3" text-anchor="middle">1</text>
<text x="217.38" y="120.3" text-anchor="middle">0.6</text><text x="262.95" y="120.3" text-anchor="middle">0.8</text><text x="308.52" y="120.3" text-anchor="middle">1</text>
<text x="54.85" y="246.4" text-anchor="middle">0.6</text><text x="100.35" y="246.4" text-anchor="middle">0.8</text><text x="145.85" y="246.4" text-anchor="middle">1</text>
<text x="217.38" y="246.4" text-anchor="middle">0.6</text><text x="262.95" y="246.4" text-anchor="middle">0.8</text><text x="308.52" y="246.4" text-anchor="middle">1</text>
</g>
<g font-family="Liberation Serif" font-size="20" fill="#000" stroke="#000" stroke-width="0.3">
<text x="144" y="19.5">(a)</text>
<text x="307.5" y="19.5">(b)</text>
<text x="144.8" y="147.6">(c)</text>
<text x="307.9" y="147.6">(d)</text>
</g>
<text x="180.55" y="265.6" text-anchor="middle" font-family="Liberation Serif" font-size="18.4" stroke="#000" stroke-width="0.25">wavelength λ [μm]</text>
<text transform="translate(12.8,118.3) rotate(-90)" text-anchor="middle" font-family="Liberation Serif" font-size="17.9" stroke="#000" stroke-width="0.25">transmission T</text>
</svg></body></html>
